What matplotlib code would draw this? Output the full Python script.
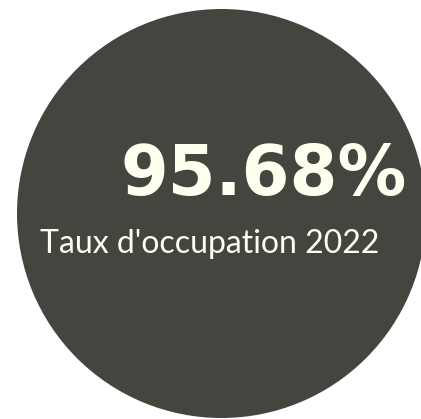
import matplotlib
matplotlib.use("Agg")
import matplotlib.pyplot as plt
from matplotlib.patches import Circle

# valeurs du graphique
taux = 95.68
libelle = "Taux d'occupation 2022"

W, H = 421, 419
fig = plt.figure(figsize=(W / 100, H / 100), dpi=100)
ax = fig.add_axes([0, 0, 1, 1])
ax.set_xlim(0, W)
ax.set_ylim(H, 0)
ax.axis('off')

# disque de fond
ax.add_patch(Circle((221.5, 213.5), 204.5, color='#45453f', lw=0))

ax.text(121, 195, f"{taux:.2f}%", color='#fffff0', fontsize=49.5,
        fontweight='bold', family='DejaVu Sans', ha='left', va='baseline')
ax.text(40, 253, libelle, color='#fffff0', fontsize=23,
        family='Lato', ha='left', va='baseline')

fig.savefig('out.png', dpi=100)
